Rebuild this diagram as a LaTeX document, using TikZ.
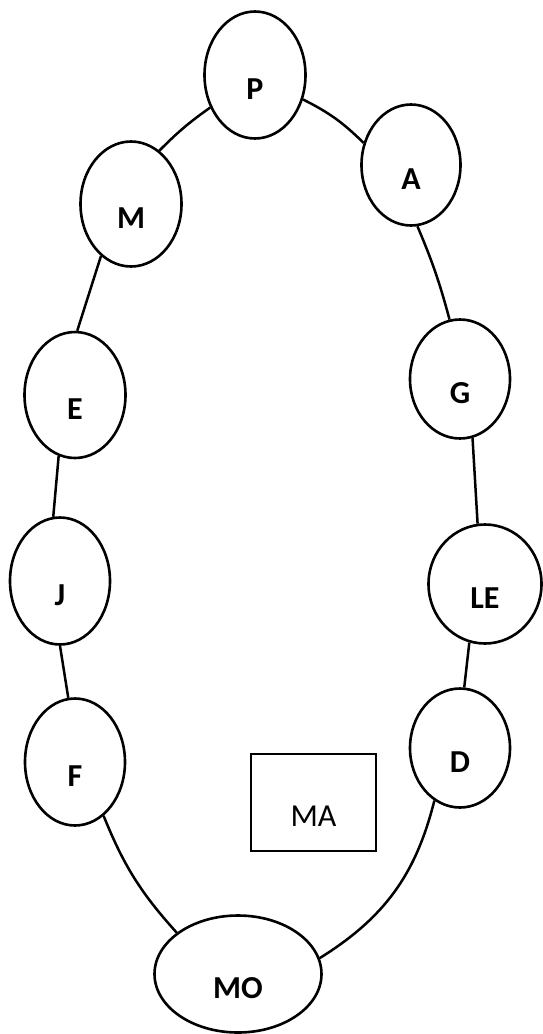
\documentclass[tikz,border=0pt]{standalone}
\usepackage{fontspec}
\setmainfont{Carlito}
\usetikzlibrary{shapes.geometric}
\tikzset{
  bubble/.style={ellipse, draw, line width=2.6pt, inner sep=0pt,
    font=\bfseries\fontsize{32}{32}\selectfont, text height=48pt, text depth=0pt},
  boxnode/.style={rectangle, draw, line width=2.3pt, inner sep=0pt,
    font=\fontsize{32}{32}\selectfont, text height=47pt, text depth=0pt}
}
\begin{document}
\begin{tikzpicture}[x=1pt, y=-1pt, line width=2.5pt]
      \useasboundingbox (0,0) rectangle (542,1034);
      \draw
        (255,75) node[bubble, minimum width=101pt, minimum height=127pt] (P){P}
        (411,165) node[bubble, minimum width=99pt, minimum height=121pt] (A){A}
        (131,204) node[bubble, minimum width=101pt, minimum height=125pt] (M){M}
        (75,395) node[bubble, minimum width=101pt, minimum height=126pt] (E){E}
        (460,379) node[bubble, minimum width=100pt, minimum height=119pt] (G){G}
        (60,581) node[bubble, minimum width=100pt, minimum height=127pt] (J){J}
        (485,584) node[bubble, minimum width=113pt, minimum height=119pt] (LE){LE}
        (75,762) node[bubble, minimum width=100pt, minimum height=127pt] (F){F}
        (460,748) node[bubble, minimum width=100pt, minimum height=119pt] (D){D}
        (238,974) node[bubble, minimum width=167pt, minimum height=117pt] (MO){MO};
      \node[boxnode, minimum width=125pt, minimum height=97pt] (MA) at (313.5,802.5) {MA};
      \begin{scope}[-]
        \draw (P.-27) to[bend left=9] (A.155);
        \draw (A.-84) to[bend left=4] (G.100);
        \draw (G.-78) to (LE.97);
        \draw (LE.-105) to (D.86);
        \draw (D.244) to[bend left=22] (MO.11);
        \draw (F.-62) to[bend right=10] (MO.146);
        \draw (J.-90) to (F.96);
        \draw (E.-105) to (J.96);
        \draw (M.240) to (E.88);
        \draw (P.216) to[bend right=5] (M.62);
      \end{scope}
    \end{tikzpicture}
\end{document}
